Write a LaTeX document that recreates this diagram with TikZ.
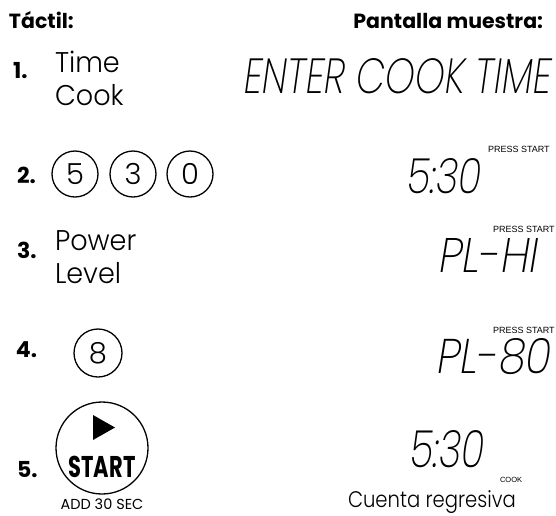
\documentclass[tikz,border=0pt]{standalone}
\usepackage{fontspec}
\usepackage{graphicx}
\setmainfont{Poppins}
\newfontfamily\lite{Poppins Light}
\newfontfamily\lcd{Poppins ExtraLight}[FakeSlant=0.18]
\newfontfamily\arial{Liberation Sans}
\tikzset{
  hdr/.style={font=\bfseries\fontsize{20.5}{24}\selectfont},
  num/.style={font=\bfseries\fontsize{22}{26}\selectfont, anchor=base west},
  word/.style={font=\lite\fontsize{28.5}{34}\selectfont, anchor=base west, xscale=0.95},
  key/.style={draw, circle, line width=1.3pt, minimum size=46pt, font=\lite\fontsize{29}{32}\selectfont},
  lcdtxt/.style={anchor=base west},
  small/.style={font=\arial\fontsize{9}{10}\selectfont, anchor=base west},
}
\begin{document}
\begin{tikzpicture}[x=1pt,y=-1pt, every node/.style={inner sep=0pt,outer sep=0pt}]
\path[use as bounding box] (0,0) rectangle (556,515);
% headers
\node[hdr, anchor=base west] (tactil) at (9,28) {Táctil:};
\node[hdr, anchor=base east] (pantalla) at (543,28) {Pantalla muestra:};
% row 1
\node[num] (n1) at (13,78) {1.};
\node[word] (time) at (55,72) {Time};
\node[word] (cook) at (55,105) {Cook};
\node[lcdtxt] (d1) at (242,93) {\resizebox{308pt}{35pt}{\lcd ENTER COOK TIME}};
% row 2
\node[num] (n2) at (17,183) {2.};
\node[key] (k5) at (75,174) {5};
\node[key] (k3) at (133,174) {3};
\node[key] (k0) at (190,174) {0};
\node[small] (ps1) at (488,152) {PRESS START};
\node[lcdtxt] (d2) at (405,193) {\resizebox{75pt}{35pt}{\lcd 5:30}};
% row 3
\node[num] (n3) at (17,258) {3.};
\node[word] (power) at (55,250) {Power};
\node[word] (level) at (55,283) {Level};
\node[small] (ps2) at (493,232) {PRESS START};
\node[lcdtxt] (d3) at (437,272) {\resizebox{100pt}{34pt}{\lcd PL-HI}};
% row 4
\node[num] (n4) at (16,357) {4.};
\node[key, minimum size=48pt] (k8) at (98,353) {8};
\node[small] (ps3) at (493,333) {PRESS START};
\node[lcdtxt] (d4) at (435,373) {\resizebox{115pt}{35pt}{\lcd PL-80}};
% row 5
\node[num] (n5) at (17,477) {5.};
\node[draw, circle, line width=1.3pt, minimum size=92pt] (start) at (102,448) {};
\fill (93,415) -- (93,440) -- (115,427.5) -- cycle;
\node[anchor=base, font=\bfseries\fontsize{30}{34}\selectfont, xscale=0.7] (starttxt) at (102,477) {START};
\node[anchor=base, font=\fontsize{14.5}{17}\selectfont] (add) at (102,509) {ADD 30 SEC};
\node[lcdtxt] (d5) at (408,467) {\resizebox{75pt}{37pt}{\lcd 5:30}};
\node[small, font=\arial\fontsize{7.5}{8}\selectfont] (cookl) at (500,482) {COOK};
\node[anchor=base west, font=\lite\fontsize{22.5}{28}\selectfont, xscale=0.87] (cuenta) at (348,507) {Cuenta regresiva};
\end{tikzpicture}
\end{document}
